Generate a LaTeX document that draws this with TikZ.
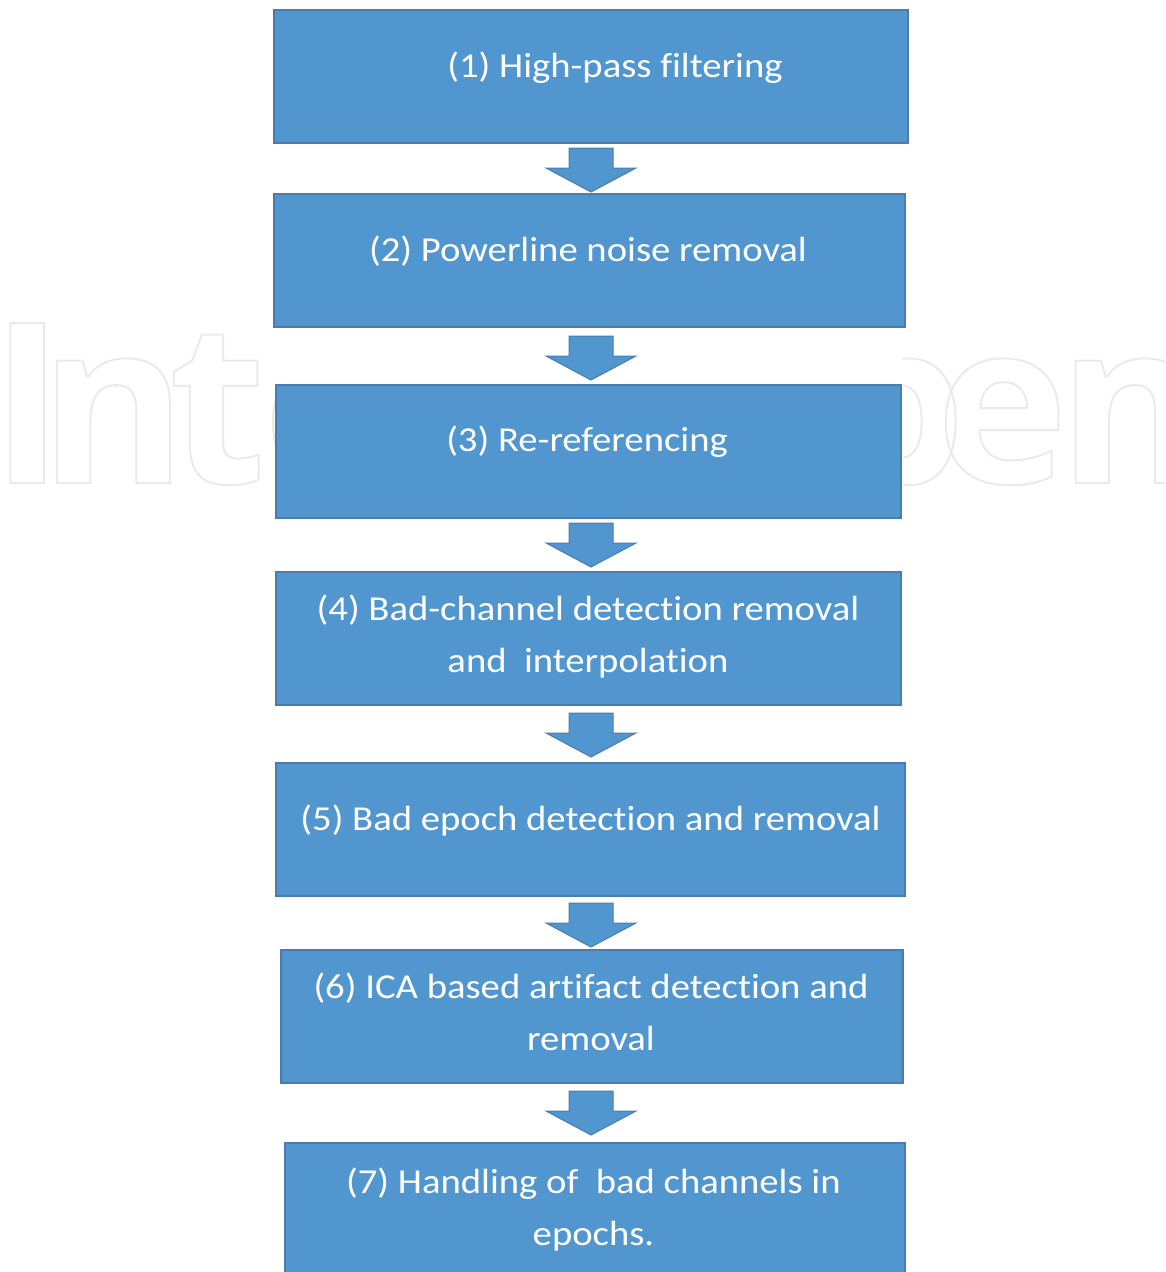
\documentclass[tikz,border=0pt]{standalone}
\usepackage{fontspec}
\setmainfont{Carlito}[FakeStretch=1.105, Ligatures=NoCommon]
\newfontfamily\wmfont{Open Sans}
\definecolor{boxblue}{HTML}{5296D0}
\definecolor{boxline}{HTML}{4A7DAE}
\definecolor{wmgray}{HTML}{EAEAEA}
\tikzset{
  stepbox/.style={draw=boxline, line width=1.5pt, fill=boxblue},
  steptext/.style={anchor=base, inner sep=0pt, text=white, align=center,
    font=\fontsize{35}{52}\selectfont},
  arrowshape/.style={draw=boxline, line width=1pt, fill=boxblue, line join=miter},
  downarrow/.pic={\path[arrowshape] (-22,0) -- (22,0) -- (22,20) -- (45,20) -- (0,44) -- (-45,20) -- (-22,20) -- cycle;}
}
\begin{document}
\begin{tikzpicture}[x=1pt,y=-1pt]
\useasboundingbox (0,0) rectangle (1165,1272);
% watermark (only visible beside the column of boxes)
\begin{scope}
\clip (0,0) rectangle (276,1272) (903,0) rectangle (1165,1272);
\node[anchor=base west, inner sep=0pt, text=wmgray] (wm) at (-10,483)
  {\wmfont\bfseries\fontsize{224}{224}\selectfont\special{pdf:literal direct 1 Tr 2 w}I\kern-25pt n\kern-18pt t\kern-3pt e\kern-3pt c\kern-3pt h\kern-3pt O\kern-3pt p\kern-30pt e\kern-10pt n\special{pdf:literal direct 0 Tr}};
\end{scope}
% boxes
\path[stepbox] (274,10) rectangle (908,143) node[pos=0.5] (b1) {};
\path[stepbox] (274,194) rectangle (905,327) node[pos=0.5] (b2) {};
\path[stepbox] (276,385) rectangle (901,518) node[pos=0.5] (b3) {};
\path[stepbox] (276,572) rectangle (901,705) node[pos=0.5] (b4) {};
\path[stepbox] (276,763) rectangle (905,896) node[pos=0.5] (b5) {};
\path[stepbox] (281,950) rectangle (903,1083) node[pos=0.5] (b6) {};
\path[stepbox] (285,1143) rectangle (905,1285) node[pos=0.5] (b7) {};
% texts
\node[steptext] (t1) at (615,77) {(1) High-pass filtering};
\node[steptext] (t2) at (588,261) {(2) Powerline noise removal};
\node[steptext] (t3) at (587,451) {(3) Re-referencing};
\node[steptext] (t4) at (588,672) {(4) Bad-channel detection removal\\and~~interpolation};
\node[steptext] (t5) at (590.5,830) {(5) Bad epoch detection and removal};
\node[steptext] (t6) at (591,1050) {(6) ICA based artifact detection and\\removal};
\node[steptext] (t7) at (593.5,1245) {(7) Handling of~~bad channels in\\epochs.};
% arrows
\pic at (591,148) {downarrow};
\pic at (591,336) {downarrow};
\pic at (591,523) {downarrow};
\pic at (591,713) {downarrow};
\pic at (591,903) {downarrow};
\pic at (591,1091) {downarrow};
\end{tikzpicture}
\end{document}
